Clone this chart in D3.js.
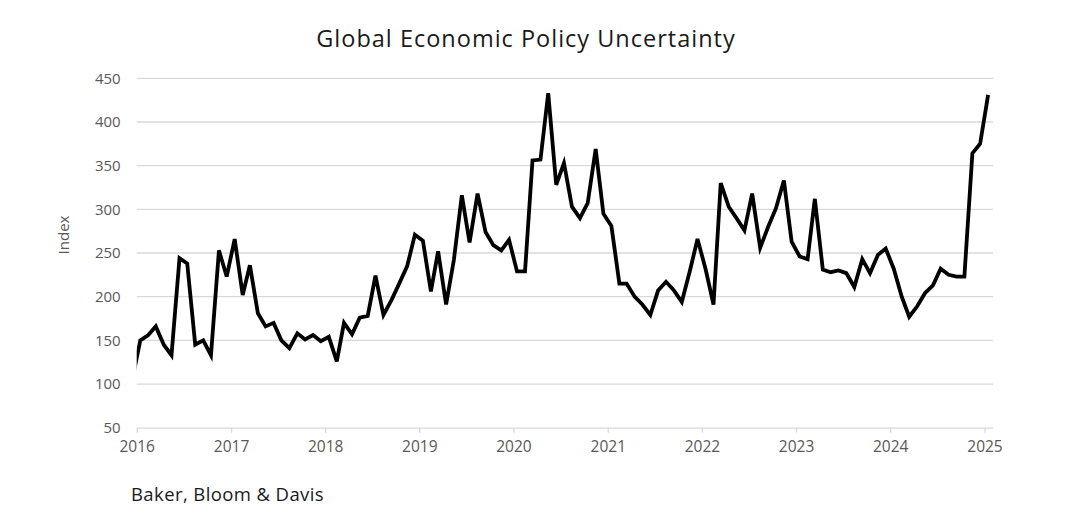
<!DOCTYPE html>
<html>
<head>
<meta charset="utf-8">
<script src="https://cdn.jsdelivr.net/npm/d3@7"></script>
<style>
  html, body { margin: 0; padding: 0; background: #ffffff; }
  svg { display: block; }
</style>
</head>
<body>
<svg id="chart" width="1083" height="520"></svg>
<script>
// ---- data (monthly, Dec 2015 – Jan 2025; plotted mid-month) ----
const startMonth = "2015-12";
const endMonth = "2025-01";
const epuValues = [
  105,
  150, 156, 166, 145, 133, 244, 238, 145, 150, 133, 253, 223,
  266, 202, 236, 181, 166, 170, 150, 141, 158, 151, 156, 149,
  154, 126, 170, 157, 176, 178, 224, 179, 196, 215, 235, 271,
  264, 206, 252, 191, 242, 316, 262, 318, 274, 259, 253, 265,
  229, 229, 356, 357, 433, 328, 353, 303, 290, 307, 369, 295,
  281, 215, 215, 200, 191, 179, 207, 217, 207, 194, 229, 266,
  232, 191, 330, 303, 290, 276, 318, 256, 280, 301, 333, 263,
  246, 243, 312, 231, 228, 230, 227, 211, 243, 227, 248, 255,
  232, 200, 177, 189, 204, 213, 232, 225, 223, 223, 364, 375,
  431
];
const yTicks = [50, 100, 150, 200, 250, 300, 350, 400, 450];
const xTickYears = [2016, 2017, 2018, 2019, 2020, 2021, 2022, 2023, 2024, 2025];
const titleText = "Global Economic Policy Uncertainty";
const yAxisLabel = "Index";
const sourceText = "Baker, Bloom & Davis";

// ---- layout ----
const plot = { left: 136.7, right: 984.5, top: 78.3, bottom: 427.7, gridRight: 993 };

const parse = d3.timeParse("%Y-%m");
const months = d3.timeMonth.range(parse(startMonth), d3.timeMonth.offset(parse(endMonth), 1));
const data = months.map((m, i) => ({ date: d3.timeDay.offset(m, 14), value: epuValues[i] }));

const x = d3.scaleTime()
  .domain([new Date(xTickYears[0], 0, 1), new Date(xTickYears[xTickYears.length - 1], 0, 1)])
  .range([plot.left, plot.right]);
const y = d3.scaleLinear().domain([50, 450]).range([plot.bottom, plot.top]);

const svg = d3.select("#chart");
const font = "'Open Sans', sans-serif";

// title
svg.append("text")
  .attr("x", 526).attr("y", 47)
  .attr("text-anchor", "middle")
  .attr("font-family", font)
  .attr("font-size", 23.5)
  .attr("letter-spacing", 1)
  .attr("fill", "#1a1a1a")
  .text(titleText);

// gridlines
svg.append("g")
  .selectAll("line")
  .data(yTicks.filter(v => v !== 50))
  .join("line")
  .attr("x1", plot.left).attr("x2", plot.gridRight)
  .attr("y1", d => y(d)).attr("y2", d => y(d))
  .attr("stroke", "#d9d9d9").attr("stroke-width", 1.3);

// y axis labels
const yAxis = d3.axisLeft(y).tickValues(yTicks).tickSize(0).tickPadding(0);
const gy = svg.append("g").attr("transform", `translate(${plot.left - 16},0)`).call(yAxis);
gy.select(".domain").remove();
gy.selectAll("text")
  .attr("font-family", font)
  .attr("font-size", 15)
  .attr("fill", "#595959");

// x axis
const xAxis = d3.axisBottom(x)
  .tickValues(xTickYears.map(yr => new Date(yr, 0, 1)))
  .tickFormat(d3.timeFormat("%Y"))
  .tickSize(5).tickPadding(8);
const gx = svg.append("g").attr("transform", `translate(0,${plot.bottom})`).call(xAxis);
gx.select(".domain")
  .attr("d", `M${plot.left},0.5H${plot.gridRight}`)
  .attr("stroke", "#d9d9d9").attr("stroke-width", 1.3);
gx.selectAll(".tick line").attr("stroke", "#d9d9d9").attr("stroke-width", 1.3);
gx.selectAll("text")
  .attr("font-family", font)
  .attr("font-size", 15.5)
  .attr("fill", "#595959");

// y axis title
svg.append("text")
  .attr("transform", `translate(69,235) rotate(-90)`)
  .attr("text-anchor", "middle")
  .attr("font-family", font)
  .attr("font-size", 15)
  .attr("fill", "#595959")
  .text(yAxisLabel);

// clip
svg.append("clipPath").attr("id", "plotclip")
  .append("rect")
  .attr("x", plot.left).attr("y", 0)
  .attr("width", plot.gridRight + 10 - plot.left).attr("height", 520);

// line
const line = d3.line().x(d => x(d.date)).y(d => y(d.value)).curve(d3.curveLinear);
svg.append("path")
  .datum(data)
  .attr("clip-path", "url(#plotclip)")
  .attr("fill", "none")
  .attr("stroke", "#000000")
  .attr("stroke-width", 3.8)
  .attr("stroke-linejoin", "miter")
  .attr("stroke-miterlimit", 4)
  .attr("d", line);

// source
svg.append("text")
  .attr("x", 131).attr("y", 501)
  .attr("font-family", font)
  .attr("font-size", 18.5)
  .attr("letter-spacing", 0.4)
  .attr("fill", "#1a1a1a")
  .text(sourceText);
</script>
</body>
</html>
